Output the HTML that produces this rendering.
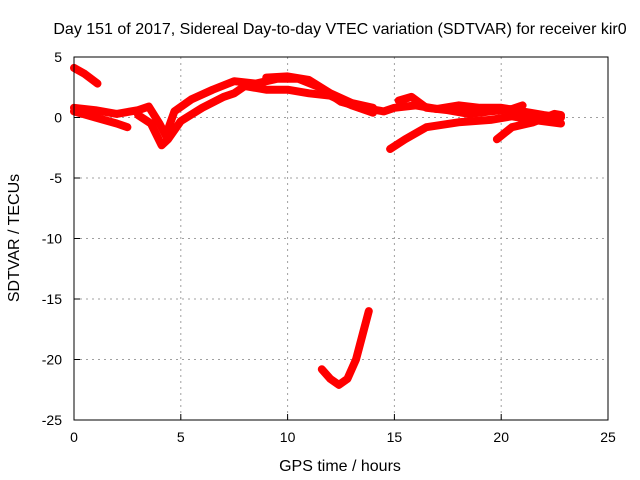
<!DOCTYPE html>
<html><head><meta charset="utf-8"><style>
body{margin:0;background:#fff}
svg{display:block;font-family:"Liberation Sans",sans-serif}
</style></head><body>
<svg id="chart" width="640" height="480">
<text x="340" y="34" font-size="16" text-anchor="middle">Day 151 of 2017, Sidereal Day-to-day VTEC variation (SDTVAR) for receiver kir0</text>
<text x="340" y="471" font-size="16" text-anchor="middle">GPS time / hours</text>
<text transform="translate(19,238) rotate(-90)" font-size="16" text-anchor="middle">SDTVAR / TECUs</text>
<g id="grid"></g><g id="series"></g><g id="axes"></g>
</svg>
<script>
const xTicks=[0,5,10,15,20,25];
const yTicks=[5,0,-5,-10,-15,-20,-25];
const trackA_t=[0,0.5,1.1];
const trackA_v=[4.1,3.6,2.8];
const track1_t=[0,1,2,3,3.5,4,4.3,4.7,5.5,6.5,7.5,8.5,9.5,10.5,11.5,12.5,13.5,14.5,15,16,17,18,19,20,21,22,22.8];
const track1_v=[0.8,0.6,0.3,0.6,0.9,-0.5,-1.5,0.5,1.5,2.3,3.0,2.8,3.2,3.2,2.5,1.3,0.8,0.5,0.8,1.0,0.7,1.0,0.8,0.8,0.5,0.2,0.0];
const track2_t=[0,1,2,2.5];
const track2_v=[0.5,0.0,-0.5,-0.8];
const track3_t=[3,3.6,4.1,4.4,5,6,7,7.5,8,9,10,11,12,13,14];
const track3_v=[0.2,-0.5,-2.3,-1.8,-0.3,0.8,1.7,2.0,2.6,2.3,2.3,2.0,1.8,1.0,0.4];
const track4_t=[9,10,11,12,13,14];
const track4_v=[3.3,3.4,3.1,2.0,1.2,0.8];
const track5_t=[14.8,15.5,16.5,18,19.5,20.5,21.5,22.8];
const track5_v=[-2.6,-1.8,-0.8,-0.4,-0.2,0.1,-0.2,-0.5];
const track6_t=[15.2,15.8,16.5,17.5,18.5,19.5,20.5,21];
const track6_v=[1.4,1.7,0.8,0.6,0.3,0.5,0.7,1.0];
const track7_t=[19.8,20.5,21.5,22.5,22.8];
const track7_v=[-1.8,-0.8,-0.4,0.3,0.2];
const track8_t=[11.6,12,12.4,12.8,13.2,13.5,13.8];
const track8_v=[-20.8,-21.6,-22.1,-21.6,-20,-18,-16];
const tracks=[[trackA_t,trackA_v],[track1_t,track1_v],[track2_t,track2_v],[track3_t,track3_v],[track4_t,track4_v],[track5_t,track5_v],[track6_t,track6_v],[track7_t,track7_v],[track8_t,track8_v]];
const X0=74,X1=608,Y0=57,Y1=420;
const xs=t=>X0+(t-0)/25*(X1-X0);
const ys=v=>Y0+(5-v)/30*(Y1-Y0);
const NS="http://www.w3.org/2000/svg";
const grid=document.getElementById('grid'),axes=document.getElementById('axes'),ser=document.getElementById('series');
function mk(tag,a,p){const e=document.createElementNS(NS,tag);for(const k in a)e.setAttribute(k,a[k]);p.appendChild(e);return e;}
xTicks.forEach(t=>{
 if(t>0&&t<25){const g=mk('line',{x1:xs(t),x2:xs(t),y1:Y0,y2:Y1,stroke:'#a0a0a0','stroke-dasharray':'2,4'},grid);
 
 }
 const tk=mk('line',{x1:xs(t),x2:xs(t),y1:Y1,y2:Y1-6,stroke:'#000'},axes);
 
 
 const tl=mk('text',{x:xs(t),y:Y1+22,'font-size':14,'text-anchor':'middle'},axes);tl.textContent=t;
 
 
});
yTicks.forEach(v=>{
 if(v<5&&v>-25){const g=mk('line',{x1:X0,x2:X1,y1:ys(v),y2:ys(v),stroke:'#a0a0a0','stroke-dasharray':'2,4'},grid);
 
 }
 const tk=mk('line',{x1:X0,x2:X0+6,y1:ys(v),y2:ys(v),stroke:'#000'},axes);
 
 
 const tl=mk('text',{x:X0-12,y:ys(v)+5,'font-size':14,'text-anchor':'end'},axes);tl.textContent=v;
 
 
});
const fr=mk('rect',{x:X0,y:Y0,width:X1-X0,height:Y1-Y0,fill:'none',stroke:'#000'},axes);


tracks.forEach(([t,v])=>{
 const pts=t.map((h,i)=>xs(h).toFixed(1)+','+ys(v[i]).toFixed(1)).join(' ');
 const p=mk('polyline',{points:pts,fill:'none',stroke:'#ff0000','stroke-width':8,'stroke-linejoin':'round','stroke-linecap':'round'},ser);
 
 
});
</script>
</body></html>
